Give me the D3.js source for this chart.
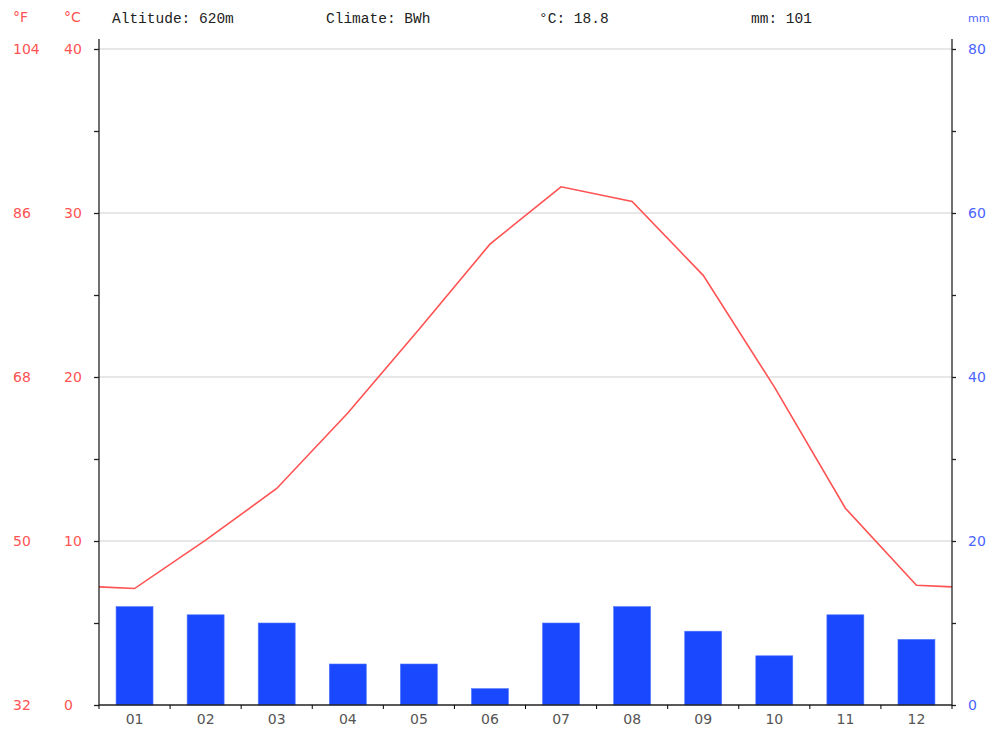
<!DOCTYPE html>
<html>
<head>
<meta charset="utf-8">
<script src="https://cdn.jsdelivr.net/npm/d3@7"></script>
<style>
  body { margin: 0; background: #fff; overflow: hidden; }
  svg { display: block; }
  svg text { font-family: "DejaVu Sans", sans-serif; }
</style>
</head>
<body>
<div id="chart"></div>
<script>
// data
const months = ["01", "02", "03", "04", "05", "06", "07", "08", "09", "10", "11", "12"];
const temps = [7.1, 10.05, 13.2, 17.8, 22.9, 28.1, 31.6, 30.7, 26.2, 19.4, 12.0, 7.3];
const rain = [12, 11, 10, 5, 5, 2, 10, 12, 9, 6, 11, 8];
const wrapTemp = 7.2; // value where the line meets both side axes
const celsiusTicks = [0, 10, 20, 30, 40];
const fahrenheitTicks = [32, 50, 68, 86, 104];
const mmTicks = [0, 20, 40, 60, 80];
const header = [
    { label: "Altitude: 620m", x: 112 },
    { label: "Climate: BWh", x: 326 },
    { label: "°C: 18.8", x: 539 },
    { label: "mm: 101", x: 751 }
];

const width = 990,
    height = 732,
    plot = { left: 99, right: 952, top: 49, bottom: 705 };

const red = "#ff5252",
    blue = "#1a48ff";

const svg = d3.select("#chart").append("svg")
    .attr("width", width)
    .attr("height", height);

// scales
const x = d3.scaleBand()
    .domain(months)
    .range([plot.left, plot.right])
    .paddingInner(0.48)
    .paddingOuter(0.24);

const xStep = d3.scaleBand().domain(months).range([plot.left, plot.right]);

const yT = d3.scaleLinear().domain([0, 40]).range([plot.bottom, plot.top]);
const yP = d3.scaleLinear().domain([0, 80]).range([plot.bottom, plot.top]);

// gridlines
svg.append("g")
    .selectAll("line")
    .data(celsiusTicks.filter(d => d > 0))
    .enter().append("line")
    .attr("x1", plot.left)
    .attr("x2", plot.right)
    .attr("y1", d => yT(d))
    .attr("y2", d => yT(d))
    .attr("stroke", "#d0d0d0")
    .attr("stroke-width", 1.2);

// precipitation bars
svg.append("g")
    .selectAll("rect")
    .data(rain)
    .enter().append("rect")
    .attr("x", (d, i) => x(months[i]))
    .attr("width", x.bandwidth())
    .attr("y", d => yP(d))
    .attr("height", d => yP(0) - yP(d))
    .attr("fill", blue)
    .attr("stroke", "#4f74ff")
    .attr("stroke-width", 0.6);

// temperature line, wrapping to the side axes
const pts = [[plot.left, wrapTemp]]
    .concat(temps.map((t, i) => [xStep(months[i]) + xStep.bandwidth() / 2, t]))
    .concat([[plot.right, wrapTemp]]);

const line = d3.line()
    .x(d => d[0])
    .y(d => yT(d[1]));

svg.append("path")
    .datum(pts)
    .attr("d", line)
    .attr("fill", "none")
    .attr("stroke", red)
    .attr("stroke-width", 1.6);

// axes
const axisLeft = d3.axisLeft(yT)
    .tickValues(d3.range(0, 41, 5))
    .tickSize(5)
    .tickFormat("");
svg.append("g")
    .attr("transform", "translate(" + plot.left + ",0)")
    .call(axisLeft)
    .call(g => g.select(".domain").attr("d", "M0," + (plot.top - 10) + "V" + plot.bottom));

const axisRight = d3.axisRight(yP)
    .tickValues(d3.range(0, 81, 10))
    .tickSize(4)
    .tickFormat("");
svg.append("g")
    .attr("transform", "translate(" + plot.right + ",0)")
    .call(axisRight)
    .call(g => g.select(".domain").attr("d", "M0," + (plot.top - 10) + "V" + plot.bottom));

const axisBottom = d3.axisBottom(xStep)
    .tickSize(0)
    .tickPadding(9);
const gx = svg.append("g")
    .attr("transform", "translate(0," + plot.bottom + ")")
    .call(axisBottom);
gx.select(".domain").attr("d", "M" + plot.left + ",0H" + plot.right);
gx.selectAll("text")
    .attr("font-family", "DejaVu Sans, sans-serif")
    .attr("font-size", 14)
    .attr("fill", "#555");

// month boundary ticks
gx.append("g")
    .selectAll("line")
    .data(months.concat(["end"]))
    .enter().append("line")
    .attr("x1", (d, i) => plot.left + i * xStep.step())
    .attr("x2", (d, i) => plot.left + i * xStep.step())
    .attr("y1", 0)
    .attr("y2", 4)
    .attr("stroke", "#000");

svg.selectAll(".domain, .tick line").attr("stroke", "#222").attr("stroke-width", 1.3);

// axis labels
svg.append("g")
    .selectAll("text")
    .data(celsiusTicks)
    .enter().append("text")
    .attr("x", 64)
    .attr("y", d => yT(d) + 5)
    .attr("font-size", 14)
    .attr("fill", red)
    .text(d => d);

svg.append("g")
    .selectAll("text")
    .data(fahrenheitTicks)
    .enter().append("text")
    .attr("x", 13)
    .attr("y", (d, i) => yT(celsiusTicks[i]) + 5)
    .attr("font-size", 14)
    .attr("fill", red)
    .text(d => d);

svg.append("g")
    .selectAll("text")
    .data(mmTicks)
    .enter().append("text")
    .attr("x", 968)
    .attr("y", d => yP(d) + 5)
    .attr("font-size", 14)
    .attr("fill", "#4a64ff")
    .text(d => d);

// units
svg.append("text").attr("x", 13).attr("y", 22).attr("font-size", 14)
    .attr("fill", red).text("°F");
svg.append("text").attr("x", 64).attr("y", 22).attr("font-size", 14)
    .attr("fill", red).text("°C");
svg.append("text").attr("x", 968).attr("y", 22).attr("font-size", 11)
    .attr("fill", "#4a64ff").text("mm");

// header
svg.append("g")
    .selectAll("text")
    .data(header)
    .enter().append("text")
    .attr("x", d => d.x)
    .attr("y", 23)
    .style("font-family", "'Liberation Mono', monospace")
    .attr("font-size", 14.5)
    .attr("fill", "#222")
    .text(d => d.label);
</script>
</body>
</html>
